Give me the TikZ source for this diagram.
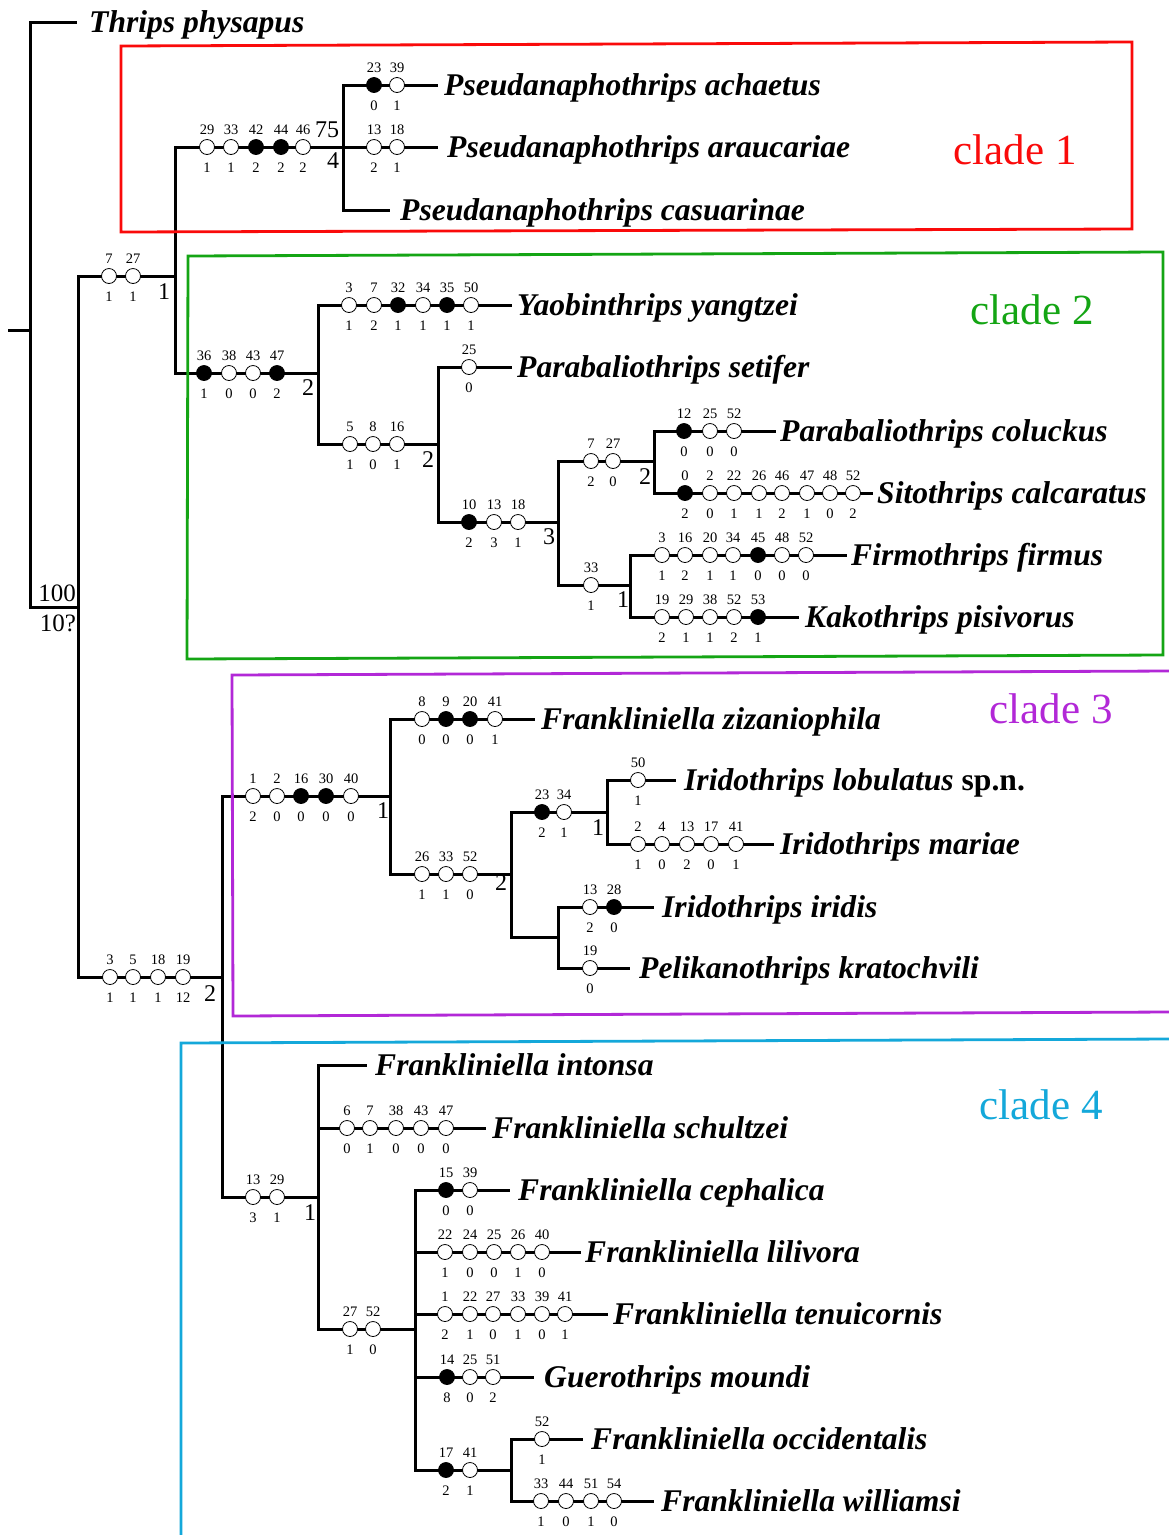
\documentclass[tikz,border=0pt]{standalone}
\usepackage{fontspec}
\setmainfont{Liberation Serif}
\definecolor{cladeR}{RGB}{250,10,10}
\definecolor{cladeG}{RGB}{20,165,20}
\definecolor{cladeP}{RGB}{178,40,215}
\definecolor{cladeC}{RGB}{20,168,218}
\colorlet{ow}{white}
\colorlet{fk}{black}
\newcommand\chrow[3]{%
  \foreach \cx/\ct/\cb/\cf in {#3}{%
    \node[chr,fill=\cf] (#1-\ct) at (\cx,#2) {};
    \node[num] (#1-\ct-t) at (\cx,#2-13) {\ct};
    \node[num] (#1-\ct-b) at (\cx,#2+25) {\cb};
  }}
\begin{document}
\begin{tikzpicture}[x=1pt,y=-1pt,
  br/.style={line width=3pt, line join=miter},
  chr/.style={circle, draw=black, line width=0.8pt, minimum size=15pt, inner sep=0pt},
  num/.style={font=\fontsize{14.5}{14.5}\selectfont, inner sep=0pt, anchor=base},
  suppt/.style={font=\fontsize{24}{24}\selectfont, inner sep=0pt},
  tax/.style={font=\fontsize{31.6}{31.6}\selectfont\bfseries\itshape, inner sep=0pt, anchor=base west},
  cl/.style={font=\fontsize{43}{43}\selectfont, inner sep=0pt},
  boxline/.style={line width=2.8pt, line join=miter}]
\fill[white] (0,0) rectangle (1168,1535);
\useasboundingbox (0,0) rectangle (1168,1535);
% internal nodes
\coordinate (stub) at (8,330);
\coordinate (R) at (30,330);
\coordinate (A) at (78,607);
\coordinate (B) at (175,276);
\coordinate (C) at (222,977);
\coordinate (D) at (343,147);
\coordinate (E) at (318,373);
\coordinate (F) at (438,444);
\coordinate (G) at (558,522);
\coordinate (H) at (654,461);
\coordinate (I) at (630,585);
\coordinate (J) at (390,796);
\coordinate (L) at (511,874);
\coordinate (M) at (607,812);
\coordinate (N) at (558,937);
\coordinate (K) at (318,1197);
\coordinate (O) at (415,1329);
\coordinate (P) at (511,1470);
% tips
\coordinate (t1) at (77,22);
\coordinate (t2) at (438,85);
\coordinate (t3) at (438,147);
\coordinate (t4) at (390,210);
\coordinate (t5) at (512,305);
\coordinate (t6) at (512,367);
\coordinate (t7) at (776,431);
\coordinate (t8) at (873,493);
\coordinate (t9) at (847,555);
\coordinate (t10) at (799,617);
\coordinate (t11) at (535,719);
\coordinate (t12) at (676,780);
\coordinate (t13) at (774,844);
\coordinate (t14) at (654,907);
\coordinate (t15) at (630,968);
\coordinate (t16) at (367,1065);
\coordinate (t17) at (486,1128);
\coordinate (t18) at (510,1190);
\coordinate (t19) at (581,1252);
\coordinate (t20) at (608,1314);
\coordinate (t21) at (534,1377);
\coordinate (t22) at (583,1439);
\coordinate (t23) at (654,1501);
% edges
\draw[br] (stub) -- (R);
\foreach \a/\b in {R/t1,R/A,A/B,A/C,B/D,B/E,D/t2,D/t3,D/t4,E/t5,E/F,F/t6,F/G,G/H,G/I,H/t7,H/t8,I/t9,I/t10,
  C/J,C/K,J/t11,J/L,L/M,L/N,M/t12,M/t13,N/t14,N/t15,K/t16,K/t17,K/O,O/t18,O/t19,O/t20,O/t21,O/P,P/t22,P/t23}
  \draw[br] (\a) |- (\b);
% clade boxes
\draw[boxline,cladeR] (121,46) -- (1132,42) -- (1132,229) -- (121,232) -- cycle;
\draw[boxline,cladeG] (188,256) -- (1163,252) -- (1163,655) -- (187,659) -- cycle;
\draw[boxline,cladeP] (1170,671) -- (232,675) -- (233,1016) -- (1170,1012);
\draw[boxline,cladeC] (1170,1039) -- (181,1043) -- (181,1540);
\node[cl,text=cladeR] (cl1) at (1015,150) {clade 1};
\node[cl,text=cladeG] (cl2) at (1032,310) {clade 2};
\node[cl,text=cladeP] (cl3) at (1051,709) {clade 3};
\node[cl,text=cladeC] (cl4) at (1041,1105) {clade 4};
% character states
\chrow{B}{276}{109/7/1/ow,133/27/1/ow}
\chrow{C}{977}{110/3/1/ow,133/5/1/ow,158/18/1/ow,183/19/12/ow}
\chrow{D}{147}{207/29/1/ow,231/33/1/ow,256/42/2/fk,281/44/2/fk,303/46/2/ow}
\chrow{t2}{85}{374/23/0/fk,397/39/1/ow}
\chrow{t3}{147}{374/13/2/ow,397/18/1/ow}
\chrow{E}{373}{204/36/1/fk,229/38/0/ow,253/43/0/ow,277/47/2/fk}
\chrow{t5}{305}{349/3/1/ow,374/7/2/ow,398/32/1/fk,423/34/1/ow,447/35/1/fk,471/50/1/ow}
\chrow{F}{444}{350/5/1/ow,373/8/0/ow,397/16/1/ow}
\chrow{t6}{367}{469/25/0/ow}
\chrow{G}{522}{469/10/2/fk,494/13/3/ow,518/18/1/ow}
\chrow{H}{461}{591/7/2/ow,613/27/0/ow}
\chrow{t7}{431}{684/12/0/fk,710/25/0/ow,734/52/0/ow}
\chrow{t8}{493}{685/0/2/fk,710/2/0/ow,734/22/1/ow,759/26/1/ow,782/46/2/ow,807/47/1/ow,830/48/0/ow,853/52/2/ow}
\chrow{I}{585}{591/33/1/ow}
\chrow{t9}{555}{662/3/1/ow,685/16/2/ow,710/20/1/ow,733/34/1/ow,758/45/0/fk,782/48/0/ow,806/52/0/ow}
\chrow{t10}{617}{662/19/2/ow,686/29/1/ow,710/38/1/ow,734/52/2/ow,758/53/1/fk}
\chrow{J}{796}{253/1/2/ow,277/2/0/ow,301/16/0/fk,326/30/0/fk,351/40/0/ow}
\chrow{t11}{719}{422/8/0/ow,446/9/0/fk,470/20/0/fk,495/41/1/ow}
\chrow{L}{874}{422/26/1/ow,446/33/1/ow,470/52/0/ow}
\chrow{M}{812}{542/23/2/fk,564/34/1/ow}
\chrow{t12}{780}{638/50/1/ow}
\chrow{t13}{844}{638/2/1/ow,662/4/0/ow,687/13/2/ow,711/17/0/ow,736/41/1/ow}
\chrow{t14}{907}{590/13/2/ow,614/28/0/fk}
\chrow{t15}{968}{590/19/0/ow}
\chrow{K}{1197}{253/13/3/ow,277/29/1/ow}
\chrow{t17}{1128}{347/6/0/ow,370/7/1/ow,396/38/0/ow,421/43/0/ow,446/47/0/ow}
\chrow{O}{1329}{350/27/1/ow,373/52/0/ow}
\chrow{t18}{1190}{446/15/0/fk,470/39/0/ow}
\chrow{t19}{1252}{445/22/1/ow,470/24/0/ow,494/25/0/ow,518/26/1/ow,542/40/0/ow}
\chrow{t20}{1314}{445/1/2/ow,470/22/1/ow,493/27/0/ow,518/33/1/ow,542/39/0/ow,565/41/1/ow}
\chrow{t21}{1377}{447/14/8/fk,470/25/0/ow,493/51/2/ow}
\chrow{P}{1470}{446/17/2/fk,470/41/1/ow}
\chrow{t22}{1439}{542/52/1/ow}
\chrow{t23}{1501}{541/33/1/ow,566/44/0/ow,591/51/1/ow,614/54/0/ow}
% support values
\node[suppt] (sB) at (164,292) {1};
\node[suppt] (sC) at (210,994) {2};
\node[suppt] (sD1) at (327,130) {75};
\node[suppt] (sD2) at (333,161) {4};
\node[suppt] (sE) at (308,388) {2};
\node[suppt] (sF) at (428,460) {2};
\node[suppt] (sG) at (549,537) {3};
\node[suppt] (sH) at (645,477) {2};
\node[suppt] (sI) at (623,600) {1};
\node[suppt] (sJ) at (383,811) {1};
\node[suppt] (sL) at (501,883) {2};
\node[suppt] (sM) at (598,828) {1};
\node[suppt] (sK) at (310,1213) {1};
\node[suppt,font=\fontsize{25}{25}\selectfont] (sA1) at (57,593) {100};
\node[suppt,font=\fontsize{25}{25}\selectfont] (sA2) at (58,623) {10?};
% taxon names
\node[tax] (n1) at (89,32) {Thrips physapus};
\node[tax] (n2) at (444,95) {Pseudanaphothrips achaetus};
\node[tax] (n3) at (447,157) {Pseudanaphothrips araucariae};
\node[tax] (n4) at (400,220) {Pseudanaphothrips casuarinae};
\node[tax] (n5) at (517,315) {Yaobinthrips yangtzei};
\node[tax] (n6) at (517,377) {Parabaliothrips setifer};
\node[tax] (n7) at (780,441) {Parabaliothrips coluckus};
\node[tax] (n8) at (877,503) {Sitothrips calcaratus};
\node[tax] (n9) at (851,565) {Firmothrips firmus};
\node[tax] (n10) at (805,627) {Kakothrips pisivorus};
\node[tax] (n11) at (541,729) {Frankliniella zizaniophila};
\node[tax] (n12) at (684,790) {Iridothrips lobulatus \upshape sp.n.};
\node[tax] (n13) at (780,854) {Iridothrips mariae};
\node[tax] (n14) at (662,917) {Iridothrips iridis};
\node[tax] (n15) at (639,978) {Pelikanothrips kratochvili};
\node[tax] (n16) at (375,1075) {Frankliniella intonsa};
\node[tax] (n17) at (492,1138) {Frankliniella schultzei};
\node[tax] (n18) at (518,1200) {Frankliniella cephalica};
\node[tax] (n19) at (585,1262) {Frankliniella lilivora};
\node[tax] (n20) at (613,1324) {Frankliniella tenuicornis};
\node[tax] (n21) at (544,1387) {Guerothrips moundi};
\node[tax] (n22) at (591,1449) {Frankliniella occidentalis};
\node[tax] (n23) at (661,1511) {Frankliniella williamsi};
\end{tikzpicture}
\end{document}
